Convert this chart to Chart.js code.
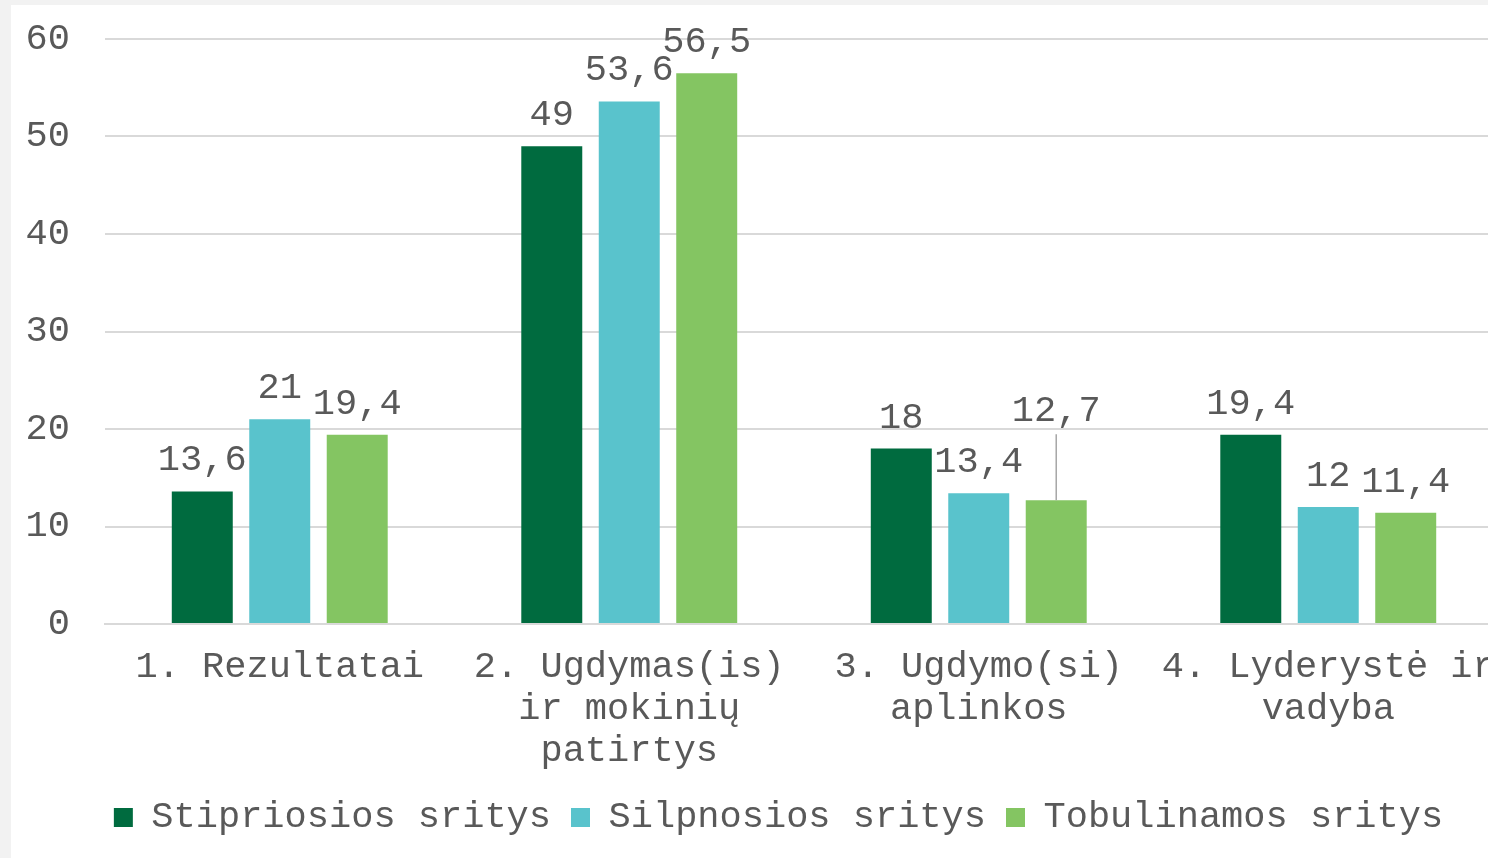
<!DOCTYPE html>
<html lang="lt">
<head>
<meta charset="UTF-8">
<title>Sritys</title>
<script src="https://cdn.jsdelivr.net/npm/chart.js"></script>
<style>
  html, body { margin: 0; padding: 0; background: #f2f2f2; overflow: hidden; }
  #wrap { position: absolute; left: 11px; top: 5px; width: 1531px; height: 853px; background: #fff; }
</style>
</head>
<body>
<div id="wrap"><canvas id="myChart"></canvas></div>

<script>
const kategorijos = [
  "1. Rezultatai",
  ["2. Ugdymas(is)", "ir mokinių", "patirtys"],
  ["3. Ugdymo(si)", "aplinkos"],
  ["4. Lyderystė ir", "vadyba"]
];
const stipriosios = [13.6, 49, 18, 19.4];
const silpnosios = [21, 53.6, 13.4, 12];
const tobulinamos = [19.4, 56.5, 12.7, 11.4];
const yTicks = [0, 10, 20, 30, 40, 50, 60];

const FONT = "'Liberation Mono', 'Courier New', monospace";
const TEXT = "#595959";

// value labels above bars (comma decimals), one label lifted with a leader line
const reiksmes = {
  id: "reiksmes",
  afterLayout(chart, args, opts) {
    // legend sits centred on the whole canvas, not only the padded area
    const l = chart.legend;
    l.left += opts.legendShift;
    l.right += opts.legendShift;
  },
  afterDatasetsDraw(chart, args, opts) {
    const ctx = chart.ctx;
    ctx.save();
    ctx.font = "37px " + FONT;
    ctx.fillStyle = TEXT;
    ctx.textAlign = "center";
    ctx.textBaseline = "alphabetic";
    chart.data.datasets.forEach((ds, di) => {
      chart.getDatasetMeta(di).data.forEach((bar, i) => {
        const txt = String(ds.data[i]).replace(".", ",");
        let y = bar.y - 21;
        if (opts.lift && opts.lift.ds === di && opts.lift.i === i) {
          y -= opts.lift.by;
          ctx.strokeStyle = "#a6a6a6";
          ctx.lineWidth = 1.5;
          ctx.beginPath();
          ctx.moveTo(bar.x, bar.y);
          ctx.lineTo(bar.x, y + 13);
          ctx.stroke();
        }
        ctx.fillText(txt, bar.x, y);
      });
    });
    ctx.restore();
  }
};

const ctx = document.getElementById("myChart").getContext("2d");
new Chart(ctx, {
  type: "bar",
  data: {
    labels: kategorijos,
    datasets: [
      { label: "Stipriosios sritys", data: stipriosios, backgroundColor: "#006b3f" },
      { label: "Silpnosios sritys", data: silpnosios, backgroundColor: "#59c3cc" },
      { label: "Tobulinamos sritys", data: tobulinamos, backgroundColor: "#84c562" }
    ]
  },
  options: {
    responsive: true,
    maintainAspectRatio: false,
    animation: false,
    datasets: { bar: { categoryPercentage: 0.665, barPercentage: 0.787 } },
    layout: { padding: { left: 15, right: 39, top: 34, bottom: 12 } },
    plugins: {
      legend: {
        position: "bottom",
        labels: {
          font: { family: FONT, size: 37 },
          color: TEXT,
          boxWidth: 19,
          boxHeight: 19,
          padding: 20
        }
      },
      tooltip: { enabled: false },
      reiksmes: { lift: { ds: 2, i: 2, by: 58 }, legendShift: 14 }
    },
    scales: {
      x: {
        grid: { display: false },
        border: { color: "#d9d9d9", width: 2 },
        afterFit: axis => { axis.paddingLeft = 0; axis.paddingRight = 0; axis.height = 155; },
        ticks: {
          font: { family: FONT, size: 37, lineHeight: 1.135 },
          color: TEXT,
          maxRotation: 0,
          autoSkip: false,
          padding: 14
        }
      },
      y: {
        min: 0,
        max: 60,
        afterBuildTicks: axis => { axis.ticks = yTicks.map(v => ({ value: v })); },
        afterFit: axis => { axis.paddingTop = 0; axis.paddingBottom = 0; axis.width = 79; },
        grid: { color: "#d9d9d9", lineWidth: 2, drawTicks: false },
        border: { display: false },
        ticks: {
          font: { family: FONT, size: 37 },
          color: TEXT,
          padding: 35
        }
      }
    }
  },
  plugins: [reiksmes]
});
</script>
</body>
</html>
